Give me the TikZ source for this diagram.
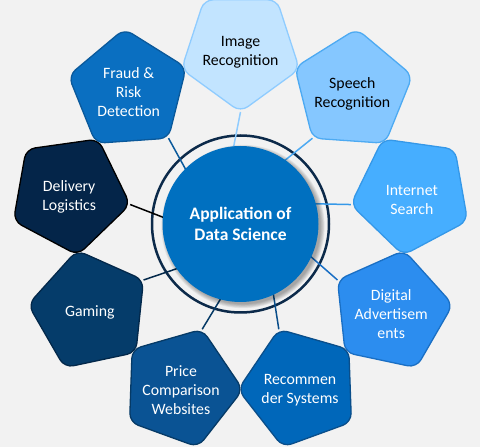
\documentclass[tikz,border=0pt]{standalone}
\usepackage{fontspec}
\setmainfont{Carlito}
\usetikzlibrary{shapes.geometric,calc}
\pgfdeclarelayer{bg}
\pgfdeclarelayer{lines}
\pgfsetlayers{bg,lines,main}
\definecolor{bgc}{HTML}{F2F2F2}
\definecolor{mainc}{HTML}{0070C0}
\definecolor{ringc}{HTML}{0C2A4A}
\definecolor{c1f}{HTML}{C2E4FF}\definecolor{c1d}{HTML}{8FCCFF}
\definecolor{c2f}{HTML}{85C7FF}\definecolor{c2d}{HTML}{4DAAF2}
\definecolor{c3f}{HTML}{46AEFF}\definecolor{c3d}{HTML}{3598E8}
\definecolor{c4f}{HTML}{2C8DEF}\definecolor{c4d}{HTML}{1A6FC4}
\definecolor{c5f}{HTML}{0067BA}\definecolor{c5d}{HTML}{0A4E8A}
\definecolor{c6f}{HTML}{0A5394}\definecolor{c6d}{HTML}{063A66}
\definecolor{c7f}{HTML}{053C6A}\definecolor{c7d}{HTML}{03284A}
\definecolor{c8f}{HTML}{042549}\definecolor{c8d}{HTML}{000000}
\definecolor{c9f}{HTML}{0A6FC1}\definecolor{c9d}{HTML}{0A599B}
\begin{document}
\begin{tikzpicture}[x=1pt,y=1pt,
  pent/.style={regular polygon, regular polygon sides=5, minimum size=124pt,
    inner sep=0pt, outer sep=0pt, rounded corners=9pt, line width=1.3pt},
  lbl/.style={align=center, font=\fontsize{15.8}{19}\selectfont, inner sep=0pt},
  conn/.style={line width=1.5pt},
  hub/.style={circle, fill=mainc, minimum size=156pt, inner sep=0pt, text=white,
    align=center, font=\bfseries\fontsize{17.5}{21}\selectfont},
  ringst/.style={circle, draw=ringc, line width=2.5pt, minimum size=177pt, inner sep=0pt}]
\begin{pgfonlayer}{bg}
\fill[bgc] (0,0) rectangle (480,447);
\end{pgfonlayer}
\useasboundingbox (0,0) rectangle (480,447);
\coordinate (C) at (240.5,223);
\begin{pgfonlayer}{bg}
\node[ringst] (ring) at (C) {};
\end{pgfonlayer}
\foreach \k in {1,...,6}{
  \fill[black, opacity=0.06] ($(C)+(2.5,-2.5)$) circle ({82.5-\k*0.8});
}
\node[hub] (main) at (C) {Application of\\Data Science};
\foreach \i/\a/\t/\dy/\txt in {
  1/90/black/-2/{Image\\Recognition},
  2/50/black/-3/{Speech\\Recognition},
  3/10/white/-6/{Internet\\Search},
  4/-30/white/-3/{Digital\\Advertisem\\ents},
  5/-70/white/-3/{Recommen\\der Systems},
  6/-110/white/-3/{Price\\Comparison\\Websites},
  7/-150/white/-1/{Gaming},
  8/170/white/-3/{Delivery\\Logistics},
  9/130/white/-1/{Fraud \&\\Risk\\Detection}}{
  \pgfmathsetmacro\rot{\a+90}
  \node[pent, fill=c\i f, draw=c\i d, shape border rotate=\rot] (p\i) at ($(C)+(\a:174)$) {};
  \node[lbl, text=\t, yshift=\dy pt] (t\i) at (p\i.center) {\txt};
  \coordinate (e\i) at ($(C)+({\a+5.8}:74.4)$);
  \begin{pgfonlayer}{lines}
  \draw[conn, draw=c\i d] (p\i.corner 1) -- (e\i);
  \end{pgfonlayer}
}
\end{tikzpicture}
\end{document}
